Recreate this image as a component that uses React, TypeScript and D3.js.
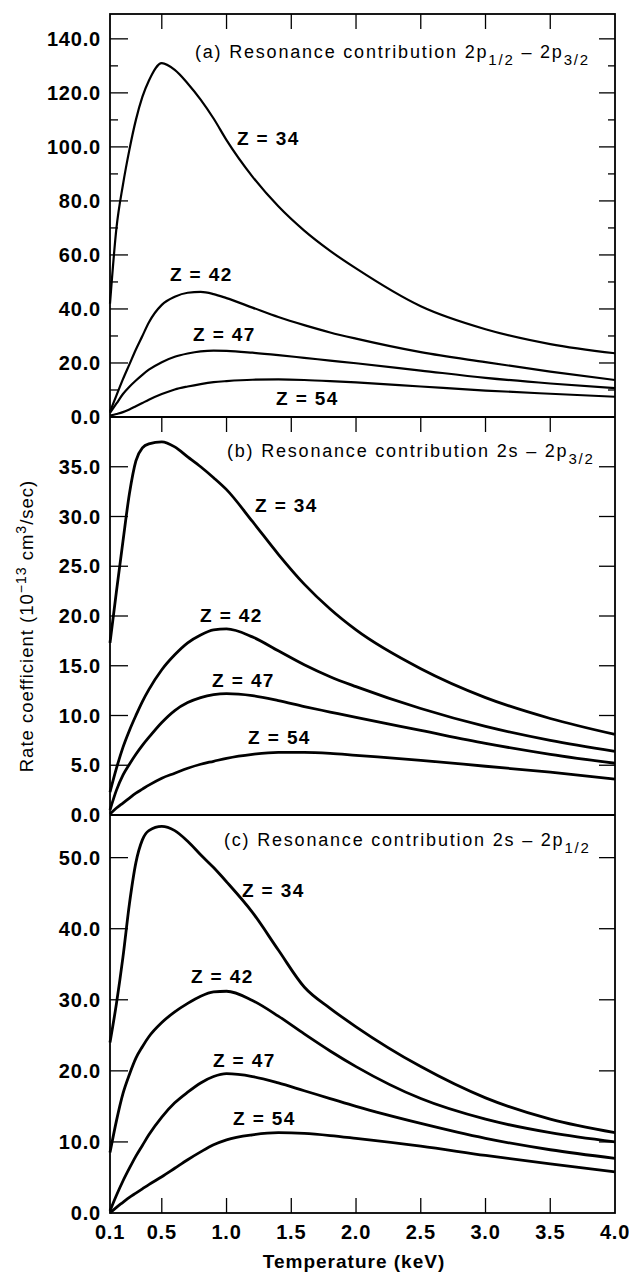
import React from "react";
import * as d3 from "d3";

// ---------- data ----------
const temperature = [0.1, 0.15, 0.2, 0.25, 0.3, 0.35, 0.4, 0.5, 0.6, 0.7, 0.8, 0.9, 1.0, 1.2, 1.4, 1.6, 1.8, 2.0, 2.5, 3.0, 3.5, 4.0];
const zLabels = ["Z = 34", "Z = 42", "Z = 47", "Z = 54"];
const xTickValues = [0.1, 0.5, 1.0, 1.5, 2.0, 2.5, 3.0, 3.5, 4.0];

const a34 = [42, 70, 86, 99, 110, 118.5, 124.5, 131, 128.5, 123.5, 117.5, 110.5, 102.5, 89, 78, 69, 61.5, 55, 41, 32.5, 27, 23.6];
const a42 = [2, 8, 14, 19.5, 25, 30, 35, 41.5, 44.5, 46, 46.3, 45.5, 44, 40.5, 37, 34, 31.3, 29, 24, 20.3, 16.8, 13.7];
const a47 = [1.5, 5, 8.5, 11.2, 13.5, 15.6, 17.5, 20.3, 22.3, 23.5, 24.3, 24.6, 24.5, 23.8, 22.9, 21.9, 20.9, 19.9, 17.2, 14.5, 12.4, 10.7];
const a54 = [0.5, 1.1, 1.8, 2.8, 4, 5.2, 6.4, 8.5, 10.2, 11.3, 12.2, 12.9, 13.3, 13.8, 13.9, 13.7, 13.3, 12.8, 11.3, 9.8, 8.6, 7.5];

const b34 = [17.3, 22.5, 27.5, 32.3, 35.6, 36.9, 37.3, 37.5, 37, 36, 35, 33.9, 32.7, 29.5, 26.2, 23.2, 20.7, 18.6, 14.7, 11.8, 9.7, 8.1];
const b42 = [2.3, 4.7, 6.8, 8.5, 10, 11.4, 12.6, 14.6, 16.1, 17.3, 18.1, 18.6, 18.7, 17.9, 16.5, 15.1, 13.9, 12.9, 10.7, 8.9, 7.5, 6.4];
const b47 = [0.5, 2.5, 4.0, 5.1, 6.1, 7.0, 7.8, 9.3, 10.5, 11.3, 11.8, 12.1, 12.2, 12.0, 11.5, 10.9, 10.35, 9.8, 8.5, 7.2, 6.1, 5.2];
const b54 = [0.1, 0.7, 1.2, 1.7, 2.2, 2.6, 3.0, 3.7, 4.2, 4.7, 5.1, 5.4, 5.7, 6.1, 6.3, 6.3, 6.2, 6.0, 5.5, 4.9, 4.3, 3.6];

const c34 = [24, 29.5, 36, 43.5, 49.3, 52.5, 53.8, 54.4, 53.8, 52.3, 50.4, 48.6, 46.6, 42.3, 37, 31.8, 28.8, 26.2, 20.6, 16.2, 13.2, 11.3];
const c42 = [8.5, 13, 16.8, 19.5, 21.8, 23.4, 24.8, 26.8, 28.3, 29.5, 30.5, 31.1, 31.2, 29.9, 27.7, 25.2, 22.8, 20.6, 16.1, 13.2, 11.3, 10];
const c47 = [0.3, 2.5, 4.5, 6.3, 8, 9.5, 11, 13.5, 15.5, 17, 18.3, 19.2, 19.6, 19.2, 18.3, 17.2, 16.1, 15.0, 12.6, 10.5, 8.9, 7.7];
const c54 = [0, 0.8, 1.5, 2.2, 2.8, 3.4, 4, 5.1, 6.3, 7.5, 8.6, 9.6, 10.3, 11, 11.3, 11.2, 10.9, 10.5, 9.4, 8.1, 6.9, 5.8];

const aTicks = [0, 20, 40, 60, 80, 100, 120, 140];
const bTicks = [0, 5, 10, 15, 20, 25, 30, 35];
const cTicks = [0, 10, 20, 30, 40, 50];

// ---------- layout ----------
const W = 629, H = 1272;
const L = 110, R = 615;
const FONT = "'Liberation Sans', Arial, Helvetica, sans-serif";

type Panel = {
  letter: string; top: number; bottom: number; yMax: number;
  ticks: number[]; minorStep: number | null; fmt: string;
  series: number[][]; sub1: string | null; mid: string; sub2: string;
  titleX: number; titleDy: number; lblPos: [number, number][];
  topTicks: boolean; bottomTicks: boolean; sw: number;
};

const panels: Panel[] = [
  { letter: "a", top: 14, bottom: 417, yMax: 149.2, ticks: aTicks, minorStep: 10, fmt: ".1f",
    series: [a34, a42, a47, a54], sub1: "1/2", mid: " – 2p", sub2: "3/2",
    titleX: 195, titleDy: 44,
    lblPos: [[1.08, 100.7], [0.563, 50.4], [0.741, 28.1], [1.382, 4.4]],
    topTicks: true, bottomTicks: false, sw: 2.2 },
  { letter: "b", top: 417, bottom: 815, yMax: 40, ticks: bTicks, minorStep: null, fmt: ".1f",
    series: [b34, b42, b47, b54], sub1: null, mid: "s – 2p", sub2: "3/2",
    titleX: 227, titleDy: 40,
    lblPos: [[1.22, 30.45], [0.795, 19.4], [0.888, 12.9], [1.166, 7.1]],
    topTicks: true, bottomTicks: false, sw: 2.8 },
  { letter: "c", top: 815, bottom: 1213, yMax: 56, ticks: cTicks, minorStep: null, fmt: ".1f",
    series: [c34, c42, c47, c54], sub1: null, mid: "s – 2p", sub2: "1/2",
    titleX: 224, titleDy: 31,
    lblPos: [[1.119, 44.5], [0.725, 32.4], [0.895, 20.6], [1.05, 12.4]],
    topTicks: false, bottomTicks: true, sw: 2.8 },
];

const x = d3.scaleLinear().domain([0.1, 4.0]).range([L, R]);

function PanelView({ p }: { p: Panel }) {
  const y = d3.scaleLinear().domain([0, p.yMax]).range([p.bottom, p.top]);
  const line = d3.line<[number, number]>()
    .x((d) => x(d[0]))
    .y((d) => y(d[1]))
    .curve(d3.curveMonotoneX);
  const fmt = d3.format(p.fmt);
  const minor = p.minorStep
    ? d3.range(p.minorStep, p.yMax, p.minorStep * 2)
    : [];
  const innerX = xTickValues.filter((v) => v > 0.1 && v < 4.0);
  return (
    <g>
      {p.series.map((s, i) => (
        <path key={i} d={line(temperature.map((t, j) => [t, s[j]] as [number, number])) || ""}
          fill="none" stroke="#000" strokeWidth={p.sw} strokeLinejoin="round" />
      ))}
      {p.ticks.filter((v) => v > 0).map((v) => (
        <line key={"lt" + v} x1={L} x2={L + 18} y1={y(v)} y2={y(v)} stroke="#000" strokeWidth={1.3} />
      ))}
      {minor.map((v) => (
        <line key={"lm" + v} x1={L} x2={L + 8} y1={y(v)} y2={y(v)} stroke="#000" strokeWidth={1.3} />
      ))}
      {p.ticks.filter((v) => v > 0).map((v) => (
        <line key={"rt" + v} x1={R} x2={R - 16} y1={y(v)} y2={y(v)} stroke="#000" strokeWidth={1.3} />
      ))}
      {minor.map((v) => (
        <line key={"rm" + v} x1={R} x2={R - 7} y1={y(v)} y2={y(v)} stroke="#000" strokeWidth={1.3} />
      ))}
      {p.topTicks && innerX.map((v) => (
        <line key={"tt" + v} x1={x(v)} x2={x(v)} y1={p.top} y2={p.top + 15} stroke="#000" strokeWidth={1.3} />
      ))}
      {p.bottomTicks && innerX.map((v) => (
        <line key={"bt" + v} x1={x(v)} x2={x(v)} y1={p.bottom} y2={p.bottom - 15} stroke="#000" strokeWidth={1.3} />
      ))}
      {p.ticks.map((v) => (
        <text key={"yl" + v} x={101} y={y(v)} dy="0.36em" textAnchor="end"
          fontFamily={FONT} fontWeight="bold" fontSize={20} letterSpacing={0.8}>{fmt(v)}</text>
      ))}
      <text x={p.titleX} y={p.top + p.titleDy} fontFamily={FONT} fontSize={18} letterSpacing={1.8}>
        {`(${p.letter}) Resonance contribution 2`}
        {p.sub1 ? (
          <>
            <tspan>p</tspan>
            <tspan dy={7} fontSize={15}>{p.sub1}</tspan>
            <tspan dy={-7}>{p.mid}</tspan>
          </>
        ) : (
          <tspan>{p.mid}</tspan>
        )}
        <tspan dy={7} fontSize={15}>{p.sub2}</tspan>
      </text>
      {p.lblPos.map((pos, i) => (
        <text key={"z" + i} x={x(pos[0])} y={y(pos[1])} fontFamily={FONT} fontWeight="bold"
          fontSize={19} letterSpacing={1.4}>{zLabels[i]}</text>
      ))}
    </g>
  );
}

export default function App() {
  const last = panels[2];
  return (
    <svg width={W} height={H} viewBox={`0 0 ${W} ${H}`}
      style={{ position: "absolute", left: 0, top: 0, display: "block", background: "#fff" }}>
      <rect x={0} y={0} width={W} height={H} fill="#fff" />
      {panels.map((p) => <PanelView key={p.letter} p={p} />)}
      <rect x={L} y={panels[0].top} width={R - L} height={last.bottom - panels[0].top}
        fill="none" stroke="#000" strokeWidth={1.8} />
      {panels.slice(1).map((p) => (
        <line key={"sep" + p.letter} x1={L} x2={R} y1={p.top} y2={p.top} stroke="#000" strokeWidth={1.8} />
      ))}
      {xTickValues.map((v) => (
        <text key={"xl" + v} x={x(v)} y={1239} textAnchor="middle" fontFamily={FONT}
          fontWeight="bold" fontSize={20} letterSpacing={0.8}>{d3.format(".1f")(v)}</text>
      ))}
      <text x={354} y={1268} textAnchor="middle" fontFamily={FONT} fontWeight="bold"
        fontSize={19} letterSpacing={1}>Temperature (keV)</text>
      <text transform="translate(33,626) rotate(-90)" textAnchor="middle" fontFamily={FONT}
        fontSize={18.5} letterSpacing={1}>
        {"Rate coefficient (10"}
        <tspan dy={-7} fontSize={14}>−13</tspan>
        <tspan dy={7}>{" cm"}</tspan>
        <tspan dy={-7} fontSize={14}>3</tspan>
        <tspan dy={7}>/sec)</tspan>
      </text>
    </svg>
  );
}
